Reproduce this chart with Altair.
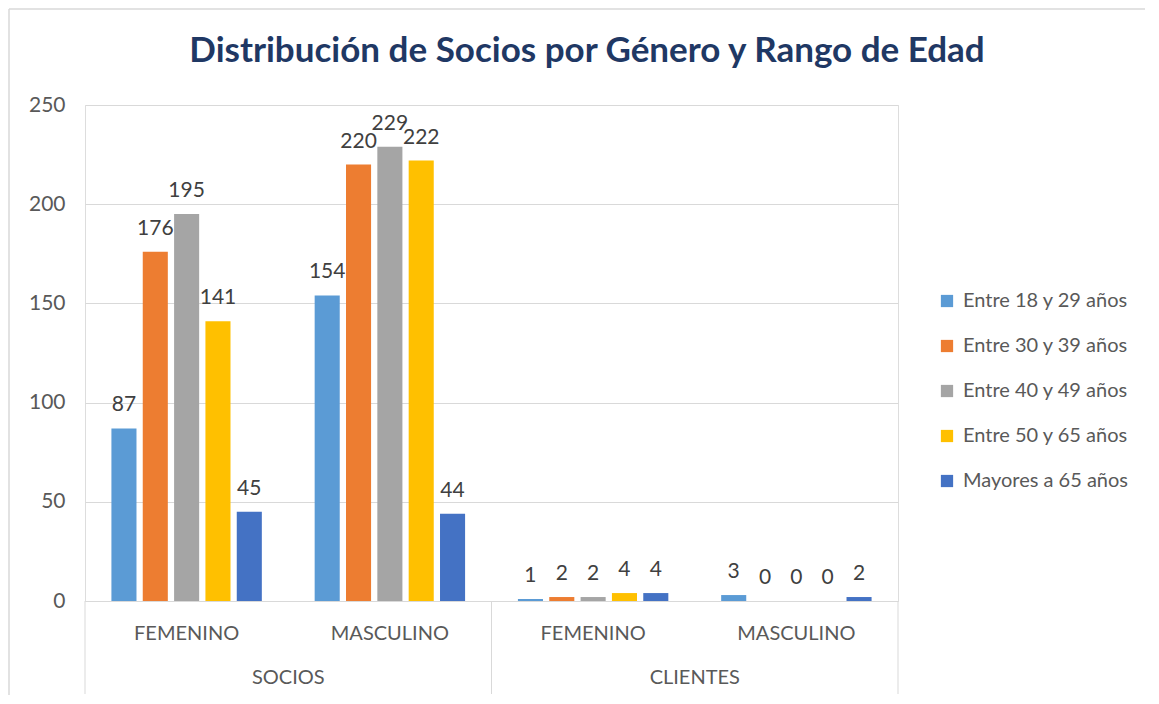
import altair as alt
import pandas as pd

secciones = ["SOCIOS", "SOCIOS", "CLIENTES", "CLIENTES"]
generos = ["FEMENINO", "MASCULINO", "FEMENINO", "MASCULINO"]
series = ["Entre 18 y 29 años", "Entre 30 y 39 años", "Entre 40 y 49 años",
          "Entre 50 y 65 años", "Mayores a 65 años"]
v_18_29 = [87, 154, 1, 3]
v_30_39 = [176, 220, 2, 0]
v_40_49 = [195, 229, 2, 0]
v_50_65 = [141, 222, 4, 0]
v_65 = [45, 44, 4, 2]
colores = ["#5B9BD5", "#ED7D31", "#A5A5A5", "#FFC000", "#4472C4"]

grupos = [f"{s}|{g}" for s, g in zip(secciones, generos)]
valores = [v_18_29, v_30_39, v_40_49, v_50_65, v_65]
rows = []
for si, name in enumerate(series):
    for gi, grp in enumerate(grupos):
        rows.append({"grp": grp, "serie": name, "val": valores[si][gi], "orden": si})
df = pd.DataFrame(rows)

FONT = "Lato"
H = 496
W = 813
FS = 21

xscale = alt.Scale(domain=grupos, paddingInner=0, paddingOuter=0)
xoff = alt.Scale(domain=series, paddingInner=0.2, paddingOuter=0.843)
yscale = alt.Scale(domain=[0, 250], nice=False)

x_enc = alt.X("grp:N", scale=xscale, sort=grupos,
              axis=alt.Axis(title=None, labelAngle=0, ticks=False,
                            labelExpr="split(datum.label, '|')[1]",
                            labelFontSize=FS - 1, labelColor="#595959", labelFont=FONT,
                            labelPadding=22, domainColor="#D9D9D9", grid=False))

bars = alt.Chart(df).mark_bar().encode(
    x=x_enc,
    xOffset=alt.XOffset("serie:N", scale=xoff, sort=series),
    y=alt.Y("val:Q", scale=yscale,
            axis=alt.Axis(title=None, values=[0, 50, 100, 150, 200, 250],
                          domain=False, ticks=False, labelFontSize=FS,
                          labelColor="#595959", labelFont=FONT, labelPadding=20,
                          gridColor="#D9D9D9")),
    color=alt.Color("serie:N", scale=alt.Scale(domain=series, range=colores),
                    sort=series,
                    legend=alt.Legend(title=None, orient="none", legendX=852,
                                      legendY=186, symbolType="square",
                                      symbolSize=150, symbolStrokeWidth=0,
                                      labelFontSize=FS - 1, labelFont=FONT,
                                      labelColor="#595959", rowPadding=25,
                                      labelOffset=6, labelLimit=400)),
)

labels = alt.Chart(df).mark_text(fontSize=FS, font=FONT, color="#404040",
                                 baseline="bottom", dy=-13).encode(
    x=alt.X("grp:N", scale=xscale, sort=grupos),
    xOffset=alt.XOffset("serie:N", scale=xoff, sort=series),
    y=alt.Y("val:Q", scale=yscale),
    text=alt.Text("val:Q"),
)

sec_df = pd.DataFrame({"grp": [grupos[0], grupos[2]], "sec": ["SOCIOS", "CLIENTES"]})
sec_labels = alt.Chart(sec_df).mark_text(fontSize=FS - 1, font=FONT, color="#595959",
                                         baseline="middle").encode(
    x=alt.X("grp:N", scale=xscale, sort=grupos, bandPosition=1),
    y=alt.value(H + 77),
    text="sec:N",
)

sep_left = alt.Chart(pd.DataFrame({"grp": [grupos[0], grupos[2]]})).mark_rule(
    color="#D9D9D9", strokeWidth=1).encode(
    x=alt.X("grp:N", scale=xscale, sort=grupos, bandPosition=0),
    y=alt.value(H), y2=alt.value(H + 93),
)
sep_right = alt.Chart(pd.DataFrame({"grp": [grupos[3]]})).mark_rule(
    color="#D9D9D9", strokeWidth=1).encode(
    x=alt.X("grp:N", scale=xscale, sort=grupos, bandPosition=1),
    y=alt.value(H), y2=alt.value(H + 93),
)

# chart frame (left and top border lines of the chart box)
frame_left = alt.Chart(pd.DataFrame({"k": [0]})).mark_rule(
    color="#D9D9D9", strokeWidth=1.5).encode(
    x=alt.value(-76), y=alt.value(-96), y2=alt.value(590),
)
frame_top = alt.Chart(pd.DataFrame({"k": [0]})).mark_rule(
    color="#D9D9D9", strokeWidth=1.5).encode(
    x=alt.value(-76), x2=alt.value(1060), y=alt.value(-96),
)

chart = alt.layer(frame_left, frame_top, bars, labels, sec_labels, sep_left, sep_right).properties(
    width=W, height=H,
    title=alt.TitleParams("Distribución de Socios por Género y Rango de Edad",
                          fontSize=35, font=FONT, fontWeight="bold",
                          color="#1F3864", anchor="middle", frame="bounds",
                          offset=-61, dx=10),
    padding={"left": 0, "top": 0, "right": 0, "bottom": 0},
).configure_view(stroke=None).configure(background="white")

chart.save("out.html", embed_options={"renderer": "svg", "actions": False})
